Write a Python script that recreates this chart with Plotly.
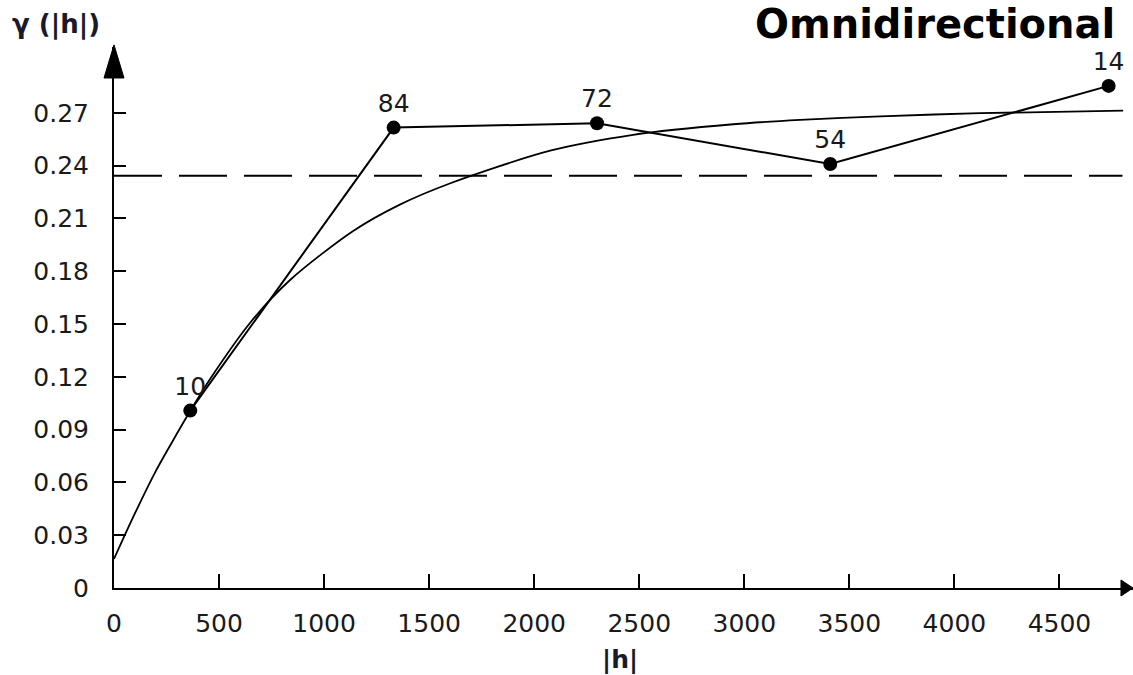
import plotly.graph_objects as go

# Experimental semivariogram (lag distance, gamma, number of pairs)
lag_h = [363, 1331, 2299, 3409, 4734]
gamma = [0.1008, 0.2616, 0.2641, 0.2409, 0.2853]
pairs = ["10", "84", "72", "54", "14"]

# Fitted model curve
model_h = [0, 55, 118, 197, 277, 340, 459, 650, 838, 1140, 1363, 1601,
           2076, 2471, 2947, 3266, 3647, 4123, 4803]
model_gamma = [0.0165, 0.031, 0.047, 0.066, 0.083, 0.096, 0.119, 0.151, 0.175,
               0.203, 0.218, 0.230, 0.2485, 0.2575, 0.2635, 0.266, 0.268,
               0.2698, 0.2712]

# Sample variance (dashed line)
sill_h = [0, 4800]
sill_gamma = [0.2342, 0.2342]

x_ticks = [0, 500, 1000, 1500, 2000, 2500, 3000, 3500, 4000, 4500]
y_ticks = [0, 0.03, 0.06, 0.09, 0.12, 0.15, 0.18, 0.21, 0.24, 0.27]
y_tick_text = ["0", "0.03", "0.06", "0.09", "0.12", "0.15", "0.18", "0.21", "0.24", "0.27"]

TICK_FONT = dict(family="DejaVu Sans", size=25, color="#1a1a1a")

fig = go.Figure()

fig.add_trace(go.Scatter(
    x=model_h, y=model_gamma, mode="lines",
    line=dict(color="black", width=1.8, shape="spline", smoothing=0.8),
    hoverinfo="skip", showlegend=False,
))

fig.add_trace(go.Scatter(
    x=sill_h, y=sill_gamma, mode="lines",
    line=dict(color="black", width=2, dash="48px,17px"),
    hoverinfo="skip", showlegend=False,
))

fig.add_trace(go.Scatter(
    x=lag_h, y=gamma, mode="lines+markers+text",
    line=dict(color="black", width=2),
    marker=dict(color="black", size=14),
    text=pairs, textposition="top center",
    textfont=TICK_FONT,
    showlegend=False,
))

fig.update_layout(
    width=1133, height=675,
    margin=dict(l=114, r=0, t=47, b=87),
    plot_bgcolor="white", paper_bgcolor="white",
    xaxis=dict(
        range=[0, 4850], tickvals=x_ticks,
        ticks="inside", ticklen=14, tickwidth=2, tickcolor="black",
        showline=True, linecolor="black", linewidth=2,
        showgrid=False, zeroline=False,
        tickfont=TICK_FONT, ticklabelstandoff=12,
    ),
    yaxis=dict(
        range=[0, 0.3074], tickvals=y_ticks, ticktext=y_tick_text,
        ticks="inside", ticklen=12, tickwidth=2, tickcolor="black",
        showline=True, linecolor="black", linewidth=2,
        showgrid=False, zeroline=False,
        tickfont=TICK_FONT, ticklabelstandoff=18,
    ),
    annotations=[
        dict(text="<b>Omnidirectional</b>", xref="paper", yref="paper",
             x=0.984, y=1.043, xanchor="right", yanchor="middle", showarrow=False,
             font=dict(family="DejaVu Sans", size=40, color="black")),
        dict(text="<b>γ (|h|)</b>", xref="paper", yref="paper",
             x=-0.102, y=1.0425, xanchor="left", yanchor="middle", showarrow=False,
             font=dict(family="DejaVu Sans", size=26, color="#1a1a2a")),
        dict(text="<b>|h|</b>", xref="paper", yref="paper",
             x=0.4966, y=-0.133, xanchor="center", yanchor="middle", showarrow=False,
             font=dict(family="DejaVu Sans", size=25, color="#1a1a2a")),
    ],
    shapes=[
        # arrow head on y axis
        dict(type="path", xref="paper", yref="paper",
             path="M 0 1.004 L -0.0098 0.9427 L 0.0098 0.9427 Z",
             fillcolor="black", line=dict(color="black", width=1)),
        # arrow head on x axis
        dict(type="path", xref="paper", yref="paper",
             path="M 1.0 0 L 0.9882 0.0148 L 0.9882 -0.0148 Z",
             fillcolor="black", line=dict(color="black", width=1)),
    ],
)

fig.write_html("out.html", config={"displayModeBar": False},
               post_script="document.body.style.margin='0';")
